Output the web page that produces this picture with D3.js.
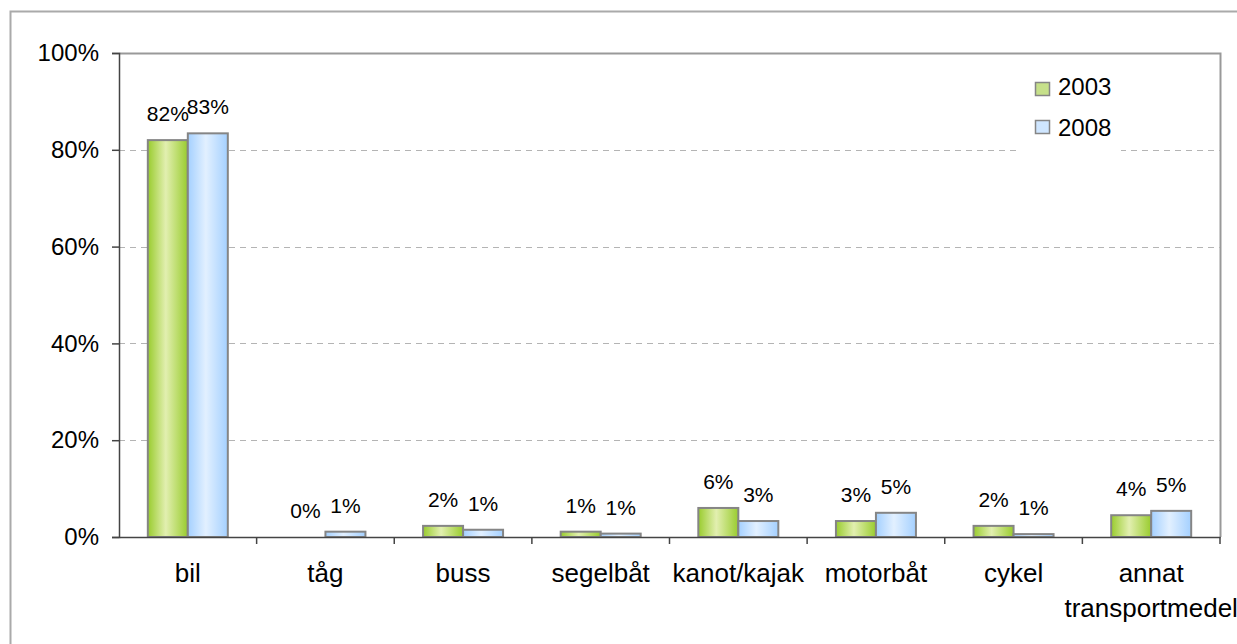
<!DOCTYPE html>
<html>
<head>
<meta charset="utf-8">
<script src="https://cdn.jsdelivr.net/npm/d3@7"></script>
<style>
  body { margin: 0; background: #fff; }
  text { font-family: "Liberation Sans", Arial, sans-serif; fill: #000; }
</style>
</head>
<body>
<svg id="chart" width="1237" height="644"></svg>
<script>
// data
const categories = ["bil", "tåg", "buss", "segelbåt", "kanot/kajak", "motorbåt", "cykel", "annat transportmedel"]
const years = ["2003", "2008"]
const values2003 = [82.0, 0.0, 2.3, 1.1, 6.0, 3.3, 2.3, 4.5]
const values2008 = [83.4, 1.1, 1.5, 0.7, 3.3, 5.0, 0.6, 5.4]
const labels2003 = ["82%", "0%", "2%", "1%", "6%", "3%", "2%", "4%"]
const labels2008 = ["83%", "1%", "1%", "1%", "3%", "5%", "1%", "5%"]
const yTicks = [0, 20, 40, 60, 80, 100]

const svg = d3.select('#chart')
const m = { left: 119, top: 53, right: 1220, bottom: 537 }

const defs = svg.append('defs')
// excel style shaded fills: dark at edges, light in the middle
function grad(id, edge, mid) {
  const g = defs.append('linearGradient').attr('id', id)
    .attr('x1', '0%').attr('x2', '100%').attr('y1', '0%').attr('y2', '0%')
  g.append('stop').attr('offset', '0%').attr('stop-color', edge)
  g.append('stop').attr('offset', '45%').attr('stop-color', mid)
  g.append('stop').attr('offset', '100%').attr('stop-color', edge)
}
grad('gGreen', '#99cc2e', '#e2efb0')
grad('gBlue', '#a4d0ff', '#e2f0ff')
const fills = ['url(#gGreen)', 'url(#gBlue)']
const legendFills = ['#c6e08a', '#cfe6ff']

// outer chart frame (only left and top visible)
svg.append('path').attr('d', 'M10.5,700 V11.5 H1300')
  .attr('fill', 'none').attr('stroke', '#aaa').attr('stroke-width', 2)

const x = d3.scaleBand().domain(categories).range([m.left, m.right])
const xs = d3.scaleBand().domain(years).range([0, 80])
const y = d3.scaleLinear().domain([0, 100]).range([m.bottom, m.top])

// plot area border top / right
svg.append('path')
  .attr('d', `M${m.left},${m.top + 0.5} H${m.right + 0.5} V${m.bottom}`)
  .attr('fill', 'none').attr('stroke', '#999').attr('stroke-width', 2)

// gridlines
svg.append('g').selectAll('line')
  .data(yTicks.filter(t => t > 0 && t < 100))
  .join('line')
  .attr('x1', m.left).attr('x2', m.right)
  .attr('y1', d => Math.round(y(d)) + 0.5).attr('y2', d => Math.round(y(d)) + 0.5)
  .attr('stroke', '#b4b4b4').attr('stroke-width', 1.2)
  .attr('stroke-dasharray', '6,5')

// bars
const series = [values2003, values2008]
const labelSets = [labels2003, labels2008]
series.forEach((vals, si) => {
  const off = (x.bandwidth() - 80) / 2
  svg.append('g').selectAll('rect')
    .data(vals)
    .join('rect')
    .attr('x', (d, i) => x(categories[i]) + off + xs(years[si]))
    .attr('y', d => y(d))
    .attr('width', xs.bandwidth())
    .attr('height', d => m.bottom - y(d))
    .attr('fill', fills[si])
    .attr('stroke', '#858585').attr('stroke-width', 2)

  svg.append('g').selectAll('text')
    .data(vals)
    .join('text')
    .attr('x', (d, i) => x(categories[i]) + off + xs(years[si]) + xs.bandwidth() / 2)
    .attr('y', d => y(d) - 19)
    .attr('text-anchor', 'middle')
    .attr('font-size', 21)
    .text((d, i) => labelSets[si][i])
})

// y axis
const yAxis = svg.append('g').attr('transform', `translate(${m.left},0)`)
  .call(d3.axisLeft(y).tickValues(yTicks).tickFormat(d => d + '%').tickSize(7).tickPadding(13))
yAxis.select('.domain').attr('stroke', '#444').attr('stroke-width', 1.5)
yAxis.selectAll('.tick line').attr('stroke', '#444').attr('stroke-width', 1.5)
yAxis.selectAll('text').attr('font-size', 24).attr('font-family', '"Liberation Sans", Arial, sans-serif')

// x axis
const xAxis = svg.append('g').attr('transform', `translate(0,${m.bottom})`)
  .call(d3.axisBottom(x).tickSize(0).tickFormat(''))
xAxis.select('.domain').attr('stroke', '#444').attr('stroke-width', 1.5)
svg.append('g').selectAll('line')
  .data(categories.slice(1).concat(['end']))
  .join('line')
  .attr('x1', d => d === 'end' ? m.right : x(d)).attr('x2', d => d === 'end' ? m.right : x(d))
  .attr('y1', m.bottom).attr('y2', m.bottom + 7)
  .attr('stroke', '#444').attr('stroke-width', 1.5)

svg.append('g').selectAll('text')
  .data(categories)
  .join('text')
  .attr('x', d => x(d) + x.bandwidth() / 2)
  .attr('y', 582)
  .attr('text-anchor', 'middle')
  .attr('font-size', 26)
  .each(function (d) {
    const words = d === 'annat transportmedel' ? ['annat', 'transportmedel'] : [d]
    words.forEach((w, i) => {
      d3.select(this).append('tspan')
        .attr('x', x(d) + x.bandwidth() / 2)
        .attr('dy', i === 0 ? 0 : 35)
        .text(w)
    })
  })

// legend
const legend = svg.append('g')
legend.append('rect').attr('x', 1020).attr('y', 66).attr('width', 101).attr('height', 88).attr('fill', '#fff')
years.forEach((yr, i) => {
  legend.append('rect')
    .attr('x', 1035.5).attr('y', 82.5 + i * 38).attr('width', 14).attr('height', 13)
    .attr('fill', legendFills[i]).attr('stroke', '#858585').attr('stroke-width', 1.5)
  legend.append('text')
    .attr('x', 1058).attr('y', 95 + i * 41)
    .attr('font-size', 24).text(yr)
})
</script>
</body>
</html>
